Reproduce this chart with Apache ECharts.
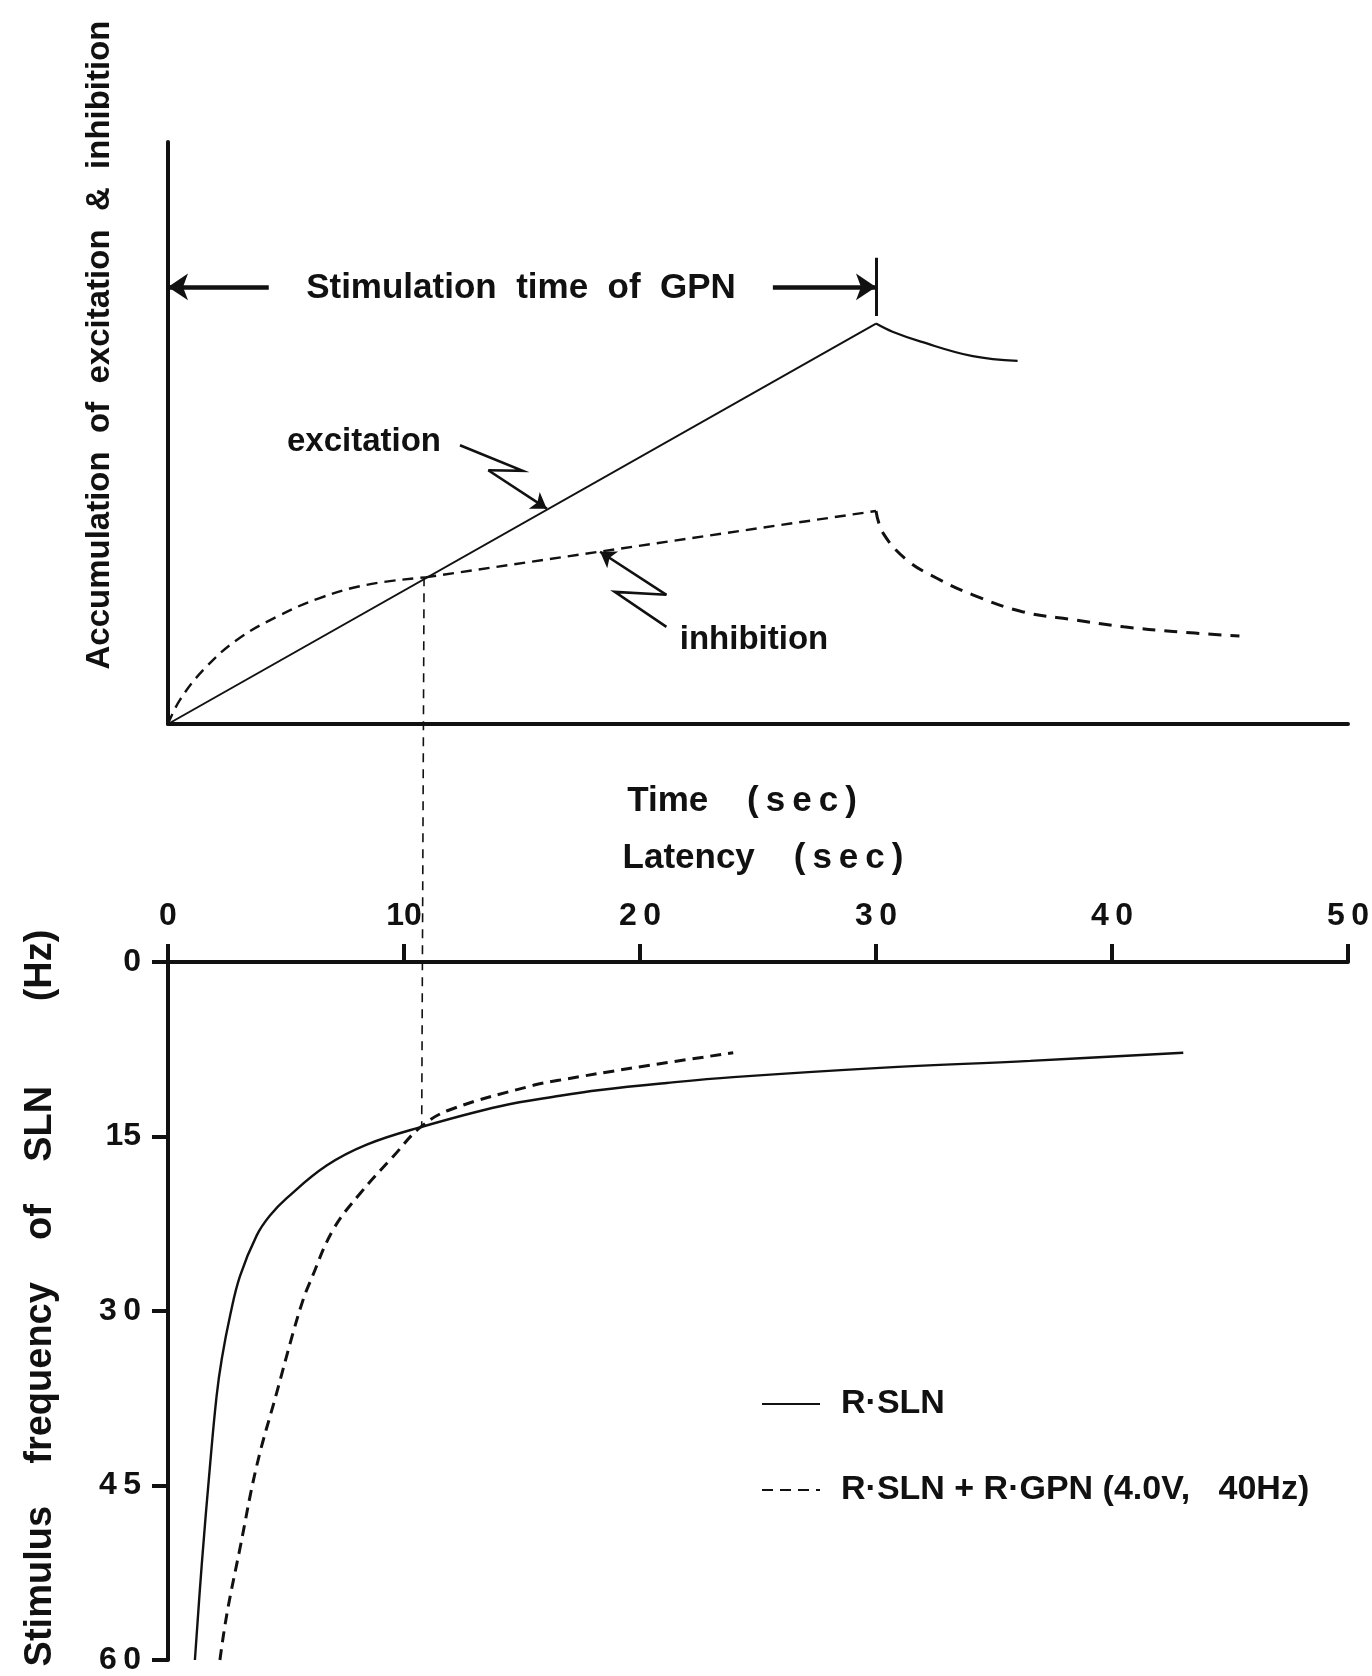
<!DOCTYPE html>
<html>
<head>
<meta charset="utf-8">
<script src="https://cdn.jsdelivr.net/npm/echarts@6/dist/echarts.min.js"></script>
<style>
  html, body { margin: 0; padding: 0; background: #fff; }
  #chart { width: 1372px; height: 1676px; }
</style>
</head>
<body>
<div id="chart"></div>
<script>
// upper panel: accumulation of excitation / inhibition vs time (arbitrary units 0-100)
const timeExcRise = [0, 30]
const excRise = [0, 68.8]
const timeExcDecay = [30, 30.7, 31.9, 34.1, 36.0]
const excDecay = [68.8, 67.4, 65.7, 63.2, 62.4]
const timeInhRise = [0, 0.5, 1.5, 2.9, 4.6, 6.4, 8.4, 10.9]
const inhRise = [0, 4.1, 9.3, 14.4, 18.4, 21.6, 23.9, 25.2]
const timeInhLinear = [10.9, 30]
const inhLinear = [25.2, 36.6]
const timeInhDecay = [30, 30.3, 31.3, 32.6, 34.1, 36.2, 38.4, 40.5, 42.6, 45.4]
const inhDecay = [36.6, 32.8, 28.2, 25.0, 22.2, 19.3, 17.9, 16.7, 15.9, 15.1]

// lower panel: latency (sec) vs stimulus frequency (Hz)
const latencyRSLN = [1.14, 1.43, 1.78, 2.06, 2.28, 2.63, 3.05, 3.76, 4.32, 5.03, 6.72, 8.42, 10.7, 14.07, 16.61, 18.31, 21.13, 23.95, 30.17, 36.53, 43.02]
const freqRSLN = [60, 51.8, 43.3, 37.3, 34.1, 30.4, 27.0, 23.5, 21.8, 20.3, 17.5, 15.7, 14.2, 12.4, 11.5, 11.0, 10.4, 9.9, 9.1, 8.5, 7.8]
const latencyGPN = [2.2, 2.49, 3.05, 3.76, 4.61, 5.31, 5.73, 6.02, 7.0, 8.14, 9.55, 10.7, 11.95, 15.48, 16.61, 19.72, 23.95]
const freqGPN = [60, 56.1, 50.4, 43.3, 37.0, 31.8, 29.0, 27.5, 23.0, 19.9, 16.7, 14.2, 12.7, 10.6, 10.15, 9.1, 7.8]

const latencyTicks = [0, 10, 20, 30, 40, 50]
const freqTicks = [0, 15, 30, 45, 60]

// annotation paths (upper panel data coords)
const excPointer = [[12.37, 47.9], [15.03, 43.5], [13.57, 43.6], [16.05, 37.0]]
const inhPointer = [[21.12, 16.7], [18.93, 22.7], [21.12, 22.2], [18.31, 29.6]]
const stimLeft = [[4.27, 75.1], [0, 75.1]]
const stimRight = [[25.63, 75.1], [30, 75.1]]
const stimEnd = [[30, 80.1], [30, 70.1]]
const crossGuide = [[10.85, 25.2], [10.75, -69.4]]

const RSLN = 'R\u00B7SLN'
const RSLN_GPN = 'R\u00B7SLN + R\u00B7GPN (4.0V,   40Hz)'

const FONT = "'Liberation Sans', Arial, sans-serif"
const INK = '#111'

const zip = (xs, ys) => xs.map((x, i) => [x, ys[i]])
const spaced = v => (String(v).length > 1 && v !== 10 && v !== 15) ? String(v).split('').join('\u2009') : String(v)

const chart = echarts.init(document.getElementById('chart'))

const label = (text, x, y, size, rotation) => ({
  type: 'text',
  x, y,
  rotation: rotation || 0,
  style: {
    text,
    font: `bold ${size}px ${FONT}`,
    fill: INK,
    align: 'center',
    verticalAlign: 'middle'
  }
})

const curve = (name, axis, data, width, dash, smooth) => ({
  name,
  type: 'line',
  xAxisIndex: axis, yAxisIndex: axis,
  data,
  smooth: smooth || false,
  symbol: 'none',
  lineStyle: { color: INK, width, type: dash || 'solid' }
})

const option = {
  backgroundColor: '#fff',
  animation: false,
  textStyle: { fontFamily: FONT, color: INK },
  grid: [
    { left: 168, top: 142, width: 1180, height: 582 },
    { left: 168, top: 962, width: 1180, height: 700 }
  ],
  xAxis: [
    {
      gridIndex: 0,
      type: 'value',
      min: 0,
      max: 50,
      name: 'Time    (\u2009s\u2009e\u2009c\u2009)',
      nameLocation: 'middle',
      nameGap: 60,
      nameTextStyle: { fontFamily: FONT, fontSize: 35, fontWeight: 'bold', color: INK, padding: [0, 32, 0, 0] },
      axisLine: { show: true, onZero: false, lineStyle: { color: INK, width: 4 } },
      axisTick: { show: false },
      axisLabel: { show: false },
      splitLine: { show: false }
    },
    {
      gridIndex: 1,
      type: 'value',
      position: 'top',
      min: latencyTicks[0],
      max: latencyTicks[latencyTicks.length - 1],
      interval: latencyTicks[1] - latencyTicks[0],
      name: 'Latency    (\u2009s\u2009e\u2009c\u2009)',
      nameLocation: 'middle',
      nameGap: 86,
      nameTextStyle: { fontFamily: FONT, fontSize: 35, fontWeight: 'bold', color: INK, padding: [0, 0, 0, 10] },
      axisLine: { show: true, onZero: false, lineStyle: { color: INK, width: 4 } },
      axisTick: { show: true, inside: false, length: 18, lineStyle: { color: INK, width: 4 } },
      axisLabel: { margin: 30, fontFamily: FONT, fontSize: 32, fontWeight: 'bold', color: INK, formatter: spaced },
      splitLine: { show: false }
    }
  ],
  yAxis: [
    {
      gridIndex: 0,
      type: 'value',
      min: 0,
      max: 100,
      axisLine: { show: true, onZero: false, lineStyle: { color: INK, width: 4 } },
      axisTick: { show: false },
      axisLabel: { show: false },
      splitLine: { show: false }
    },
    {
      gridIndex: 1,
      type: 'value',
      inverse: true,
      min: freqTicks[0],
      max: freqTicks[freqTicks.length - 1],
      interval: freqTicks[1] - freqTicks[0],
      axisLine: { show: true, onZero: false, lineStyle: { color: INK, width: 4 } },
      axisTick: { show: true, inside: false, length: 16, lineStyle: { color: INK, width: 4 } },
      axisLabel: { margin: 27, fontFamily: FONT, fontSize: 32, fontWeight: 'bold', color: INK, formatter: spaced },
      splitLine: { show: false }
    }
  ],
  legend: {
    orient: 'vertical',
    left: 756,
    top: 1382,
    itemWidth: 58,
    itemHeight: 14,
    itemGap: 52,
    selectedMode: false,
    itemStyle: { opacity: 0 },
    data: [RSLN, RSLN_GPN],
    textStyle: { fontFamily: FONT, fontSize: 34, fontWeight: 'bold', color: INK, padding: [0, 0, 0, 16] }
  },
  graphic: [
    label('Accumulation  of  excitation  &  inhibition', 100, 345, 33, Math.PI / 2),
    label('Stimulus    frequency    of    SLN        (Hz)', 41, 1298, 38, Math.PI / 2),
    label('Stimulation  time  of  GPN', 521, 288, 35),
    label('excitation', 364, 442, 33),
    label('inhibition', 754, 640, 33)
  ],
  series: [
    curve('excitation', 0, zip(timeExcRise, excRise), 2),
    curve('excitation decay', 0, zip(timeExcDecay, excDecay), 2.2, 'solid', 0.4),
    curve('inhibition', 0, zip(timeInhRise, inhRise), 2.4, [11, 7], 0.4),
    curve('inhibition linear', 0, zip(timeInhLinear, inhLinear), 2.4, [11, 7]),
    curve('inhibition decay', 0, zip(timeInhDecay, inhDecay), 3, [13, 9], 0.4),
    Object.assign(curve('crossing', 0, crossGuide, 1.6, [9, 7]), { clip: false }),
    {
      name: 'pointers',
      type: 'lines',
      coordinateSystem: 'cartesian2d',
      xAxisIndex: 0, yAxisIndex: 0,
      polyline: true,
      lineStyle: { color: INK, width: 2.6, opacity: 1 },
      data: [{ coords: excPointer.slice(0, 3) }, { coords: inhPointer.slice(0, 3) }]
    },
    {
      name: 'pointer tips',
      type: 'lines',
      coordinateSystem: 'cartesian2d',
      xAxisIndex: 0, yAxisIndex: 0,
      symbol: ['none', 'arrow'],
      symbolSize: 15,
      lineStyle: { color: INK, width: 2.6, opacity: 1 },
      data: [{ coords: excPointer.slice(2) }, { coords: inhPointer.slice(2) }]
    },
    {
      name: 'stimulation',
      type: 'lines',
      coordinateSystem: 'cartesian2d',
      xAxisIndex: 0, yAxisIndex: 0,
      symbol: ['none', 'arrow'],
      symbolSize: 20,
      lineStyle: { color: INK, width: 4.5, opacity: 1 },
      data: [{ coords: stimLeft }, { coords: stimRight }]
    },
    {
      name: 'stimulation end',
      type: 'lines',
      coordinateSystem: 'cartesian2d',
      xAxisIndex: 0, yAxisIndex: 0,
      symbol: 'none',
      lineStyle: { color: INK, width: 3, opacity: 1 },
      data: [{ coords: stimEnd }]
    },
    curve(RSLN, 1, zip(latencyRSLN, freqRSLN), 2.4, 'solid', 0.4),
    curve(RSLN_GPN, 1, zip(latencyGPN, freqGPN), 3, [11, 7], 0.4)
  ]
}

chart.setOption(option)
</script>
</body>
</html>
